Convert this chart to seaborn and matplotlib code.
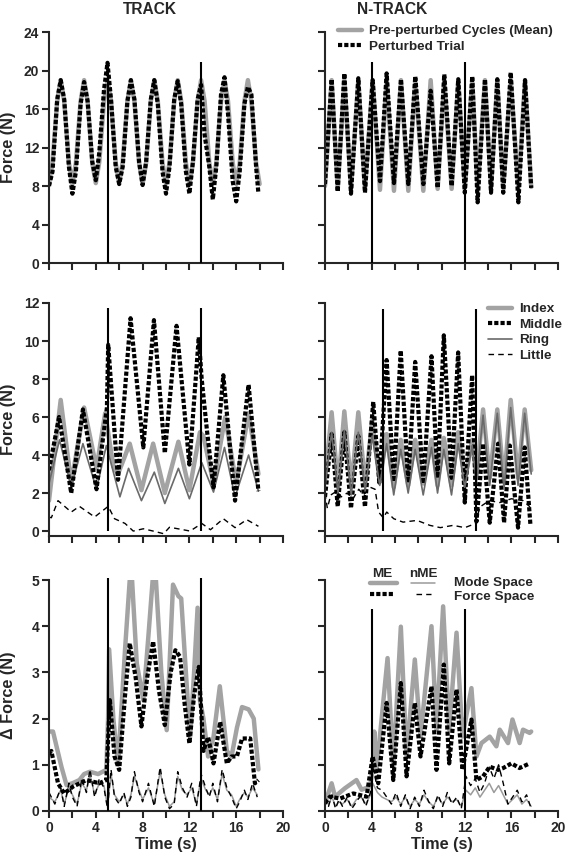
import matplotlib
matplotlib.use("Agg")
import matplotlib.pyplot as plt
import seaborn as sns
from matplotlib.lines import Line2D

# ---------------- DATA ----------------
x_ticks = [0, 2, 4, 6, 8, 10, 12, 14, 16, 18, 20]
x_tick_labels = ["0", "", "4", "", "8", "", "12", "", "16", "", "20"]
y_ticks_total = [0, 4, 8, 12, 16, 20, 24]
y_ticks_finger = [0, 2, 4, 6, 8, 10, 12]
y_ticks_delta = [0, 1, 2, 3, 4, 5]

# Top-left (TRACK) total force
t_track_mean = [0, 0.3, 0.7, 1, 1.3, 1.7, 2, 2.3, 2.7, 3, 3.3, 3.7, 4, 4.3, 4.7, 5, 5.3, 5.7,
                6, 6.3, 6.7, 7, 7.3, 7.7, 8, 8.3, 8.7, 9, 9.3, 9.7, 10, 10.3, 10.7, 11, 11.3, 11.7,
                12, 12.3, 12.7, 13, 13.3, 13.7, 14, 14.3, 14.7, 15, 15.3, 15.7, 16, 16.3, 16.7,
                17, 17.3, 17.7, 18]
track_mean = [8.2, 10.4, 16.8, 19.0, 16.8, 10.4, 8.2, 10.4, 16.8, 19.0, 16.8, 10.4,
              8.3, 10.5, 16.8, 19.0, 16.8, 10.4, 8.3, 10.5, 16.8, 19.0, 16.8, 10.4,
              8.2, 10.4, 16.8, 19.0, 16.8, 10.4, 8.2, 10.4, 16.8, 19.0, 16.8, 10.4,
              8.2, 10.4, 16.8, 19.0, 16.8, 10.4, 8.2, 10.4, 16.8, 19.0, 16.8, 10.4,
              8.2, 10.4, 16.8, 19.0, 16.8, 10.4, 8.2]
t_track_trial = [0, 0.3, 0.7, 1, 1.3, 1.7, 2, 2.3, 2.7, 3, 3.3, 3.7, 4, 4.3, 4.7, 5, 5.3, 5.7,
                 6, 6.3, 6.7, 7, 7.3, 7.7, 8, 8.3, 8.7, 9, 9.3, 9.7, 10, 10.3, 10.7, 11, 11.3, 11.7,
                 12, 12.3, 12.7, 13, 13.3, 13.7, 14, 14.3, 14.7, 15, 15.3, 15.7, 16, 16.3, 16.7,
                 17, 17.3, 17.7, 17.9]
track_trial = [8.0, 9.5, 17.0, 19.0, 17.0, 10.0, 7.2, 9.5, 16.5, 18.8, 16.8, 10.5,
               8.6, 11.5, 18.0, 20.8, 17.0, 10.0, 8.2, 10.0, 16.8, 19.0, 17.0, 10.5,
               8.1, 10.5, 17.0, 19.0, 16.5, 9.5, 7.2, 10.0, 17.0, 18.9, 16.5, 9.5,
               7.2, 10.5, 17.0, 18.5, 13.3, 10.0, 6.6, 10.0, 17.5, 19.3, 15.5, 8.5,
               6.4, 9.5, 16.5, 18.3, 17.5, 10.0, 7.2]

# Top-right (N-TRACK) total force
t_ntrack = [0, 0.57, 1.09, 1.66, 2.23, 2.86, 3.43, 4.09, 4.72, 5.29, 5.92, 6.52, 7.15, 7.75,
            8.44, 9.07, 9.67, 10.24, 10.87, 11.44, 12.0, 12.64, 13.1, 13.73, 14.25, 14.79,
            15.3, 15.94, 16.6, 17.17, 17.7]
ntrack_mean = [8.0, 19.0, 7.7, 19.0, 7.7, 19.0, 7.7, 19.0, 7.6, 19.0, 7.5, 19.0, 7.5, 19.0,
               7.5, 19.0, 7.7, 19.0, 7.7, 19.0, 7.8, 19.0, 7.8, 19.0, 7.8, 19.0, 7.8, 19.0,
               7.8, 19.0, 7.9]
ntrack_trial = [8.2, 19.1, 7.4, 19.7, 7.2, 19.2, 7.3, 19.0, 8.5, 19.7, 8.3, 19.1, 8.2, 19.4,
                8.2, 17.9, 7.8, 19.6, 8.0, 19.1, 7.3, 19.4, 6.3, 19.1, 7.3, 19.1, 7.3, 19.8,
                6.3, 19.0, 7.8]

# Middle-left (TRACK) finger forces
t_tr_middle = [0, 0.86, 1.9, 2.9, 4.06, 4.95, 5.06, 5.9, 6.97, 8.06, 8.97, 9.9, 10.9, 12.0,
               12.8, 13.05, 13.5, 14.06, 14.9, 15.9, 17.06, 17.9]
tr_middle = [3.2, 6.0, 2.0, 6.4, 2.2, 6.5, 9.8, 2.7, 11.2, 4.4, 11.1, 4.1, 10.8, 3.5,
             10.2, 8.0, 5.3, 2.3, 8.2, 1.6, 7.7, 2.1]
t_tr_index = [0, 1.0, 1.9, 3.0, 4.06, 4.8, 5.5, 5.9, 6.9, 7.9, 8.9, 9.9, 11.06, 12.0, 12.9,
              13.2, 14.06, 15.06, 16.0, 17.06, 17.9]
tr_index = [1.6, 6.9, 2.5, 6.5, 3.3, 6.2, 3.4, 3.0, 4.6, 2.15, 4.6, 2.0, 4.7, 2.15, 5.2,
            5.0, 2.5, 6.0, 2.5, 6.2, 3.0]
t_tr_ring = [0, 0.9, 1.9, 2.9, 4.06, 4.9, 6.06, 6.8, 7.9, 9.0, 9.9, 11.06, 12.0, 13.06,
             14.06, 15.0, 15.9, 17.06, 17.9]
tr_ring = [2.5, 4.8, 2.3, 4.6, 2.2, 4.5, 1.8, 3.3, 1.6, 3.1, 1.45, 3.3, 1.7, 3.6,
           2.05, 4.4, 1.8, 4.0, 2.1]
t_tr_little = [0, 0.2, 0.77, 1.9, 2.6, 3.9, 5.06, 5.6, 6.5, 7.2, 8.06, 8.9, 9.8, 10.3, 11.2,
               12.06, 13.06, 13.8, 14.9, 15.9, 16.9, 17.9]
tr_little = [0.74, 0.7, 1.6, 1.0, 1.3, 0.74, 1.3, 0.65, 0.4, 0.0, 0.12, 0.0, -0.14, 0.2, 0.1,
             0.0, 0.4, 0.07, 0.65, 0.18, 0.6, 0.25]

# Middle-right (N-TRACK) finger forces
t_nt_middle = [0, 0.57, 1.09, 1.66, 2.23, 2.86, 3.43, 4.14, 4.66, 5.29, 5.9, 6.5, 7.14, 7.74,
               8.43, 9.14, 9.66, 10.2, 10.86, 11.43, 12.0, 12.63, 13.0, 13.57, 14.14, 14.86,
               15.37, 15.86, 16.57, 17.14, 17.63]
nt_middle = [1.8, 5.1, 1.3, 5.2, 1.2, 5.0, 1.27, 6.8, 2.55, 9.0, 2.6, 9.5, 2.55, 8.9,
             2.5, 9.2, 2.8, 10.3, 2.8, 9.4, 1.5, 8.2, 0.5, 4.6, 0.44, 4.6,
             0.44, 4.5, 0.18, 4.4, 0.35]
t_nt_index = [0, 0.57, 1.12, 1.66, 2.25, 2.86, 3.45, 4.05, 4.7, 5.29, 5.9, 6.5, 7.14, 7.74,
              8.43, 9.14, 9.66, 10.2, 10.86, 11.43, 12.0, 12.63, 13.0, 13.57, 14.14, 14.79,
              15.37, 15.94, 16.57, 17.14, 17.7]
nt_index = [2.6, 6.25, 2.3, 6.3, 2.3, 6.25, 2.4, 5.8, 2.6, 5.1, 2.3, 4.8, 2.4, 4.8,
            2.5, 4.8, 2.4, 4.9, 2.4, 5.2, 2.6, 4.8, 2.8, 6.4, 2.8, 6.4,
            2.6, 6.9, 2.8, 6.4, 3.2]
nt_ring = [2.3, 5.2, 2.0, 5.3, 1.9, 5.2, 2.1, 5.0, 2.4, 4.6, 1.9, 4.3, 2.0, 4.3,
           1.9, 4.4, 2.0, 4.3, 1.9, 4.6, 2.3, 4.5, 2.6, 6.1, 2.4, 6.2,
           2.2, 6.5, 2.4, 6.2, 3.0]
t_nt_little = [0, 0.2, 0.5, 1.0, 1.4, 1.9, 2.4, 2.9, 3.3, 3.9, 4.3, 4.6, 5.0, 5.3, 5.9, 6.7,
               7.9, 9.0, 9.9, 11.0, 12.0, 12.9, 13.3, 14.1, 15.0, 16.0, 17.0, 17.6]
nt_little = [2.0, 1.2, 1.9, 2.1, 1.8, 2.0, 1.7, 2.2, 1.9, 2.3, 2.2, 1.0, 0.7, 1.0, 0.65, 0.47,
             0.56, 0.3, 0.18, 0.3, 0.18, 0.39, 1.27, 1.6, 1.5, 1.7, 1.6, 1.27]

# Bottom-left (TRACK) delta force
t_tr_me_mode = [0, 0.34, 1.06, 1.5, 2.0, 2.6, 3.0, 3.5, 4.2, 4.9, 5.05, 5.14, 5.5, 5.9, 6.5,
                6.9, 7.1, 7.5, 8.06, 8.5, 8.86, 9.14, 9.6, 10.06, 10.6, 11.06, 11.3, 11.7,
                12.06, 12.4, 12.7, 12.9, 13.2, 13.6, 14.06, 14.6, 15.2, 15.6, 16.06, 16.5,
                17.06, 17.5, 17.9]
tr_me_mode = [1.72, 1.72, 0.96, 0.56, 0.6, 0.67, 0.8, 0.85, 0.8, 0.89, 2.0, 3.5, 2.0, 1.0,
              3.5, 5.0, 5.0, 3.2, 2.4, 3.8, 5.0, 5.0, 3.0, 1.75, 4.9, 4.65, 4.6, 3.0,
              1.6, 3.0, 4.4, 2.4, 2.0, 1.18, 1.6, 2.7, 1.3, 1.18, 1.8, 2.25,
              2.2, 2.0, 0.9]
t_tr_me_force = [0, 0.2, 0.77, 1.3, 2.06, 3.2, 4.3, 4.9, 5.2, 5.6, 6.0, 6.5, 6.9, 7.4, 7.9,
                 8.4, 8.9, 9.4, 9.9, 10.4, 10.8, 11.2, 11.6, 12.0, 12.4, 12.8, 13.2, 13.6,
                 14.06, 14.63, 15.2, 15.6, 16.06, 16.5, 17.2, 17.6, 17.9]
tr_me_force = [1.25, 1.3, 0.6, 0.38, 0.53, 0.67, 0.6, 0.67, 2.4, 1.18, 0.89, 2.5, 3.63, 2.9,
               1.83, 2.9, 3.67, 2.6, 1.86, 3.0, 3.48, 3.34, 2.3, 1.46, 2.5, 3.12, 1.3, 1.6,
               1.03, 1.93, 1.03, 1.18, 1.18, 1.57, 1.57, 0.6, 0.67]
t_tr_nme = [0, 0.5, 1.0, 1.3, 1.7, 2.0, 2.4, 2.8, 3.2, 3.5, 3.9, 4.3, 4.7, 5.0, 5.3, 5.6, 6.0,
            6.4, 6.7, 7.0, 7.3, 7.7, 8.0, 8.5, 9.0, 9.5, 9.9, 10.3, 10.7, 11.0, 11.4, 11.8,
            12.2, 12.6, 13.0, 13.4, 13.7, 14.0, 14.4, 14.8, 15.2, 15.6, 16.0, 16.3, 16.7,
            17.0, 17.4, 17.8]
tr_nme_force = [0.4, 0.15, 0.5, 0.1, 0.6, 0.3, 0.1, 0.7, 0.4, 0.9, 0.3, 0.7, 0.5, 0.05, 0.9,
                0.3, 0.15, 0.4, 0.1, 0.3, 0.85, 0.4, 0.2, 0.6, 0.1, 0.95, 0.3, 0.05, 0.15,
                0.85, 0.5, 0.3, 0.6, 0.1, 0.8, 0.5, 0.3, 0.6, 0.2, 0.9, 0.5, 0.3, 0.05,
                0.2, 0.45, 0.25, 0.6, 0.3]
tr_nme_mode = [0.3, 0.2, 0.45, 0.15, 0.5, 0.35, 0.15, 0.6, 0.45, 0.8, 0.35, 0.6, 0.55, 0.1,
               0.8, 0.35, 0.2, 0.35, 0.15, 0.35, 0.75, 0.45, 0.25, 0.5, 0.15, 0.85, 0.35,
               0.1, 0.2, 0.75, 0.45, 0.35, 0.5, 0.15, 0.7, 0.45, 0.35, 0.5, 0.25, 0.8, 0.45,
               0.35, 0.1, 0.25, 0.4, 0.3, 0.5, 0.35]

# Bottom-right (N-TRACK) delta force
t_nt_me_mode = [0, 0.57, 0.86, 1.7, 2.7, 3.14, 3.86, 4.1, 4.23, 4.43, 5.37, 5.86, 6.51, 7.0,
                7.71, 8.2, 9.14, 9.57, 10.14, 10.66, 11.29, 11.8, 12.57, 13.0, 13.43, 14.14,
                14.71, 15.0, 15.71, 16.09, 16.71, 17.0, 17.57, 17.7]
nt_me_mode = [0.17, 0.6, 0.31, 0.49, 0.67, 0.46, 0.53, 0.9, 1.72, 0.89, 3.31, 0.96, 3.99,
              1.18, 3.28, 1.61, 4.0, 1.76, 4.43, 1.76, 3.86, 1.61, 2.66, 1.18, 1.47, 1.61,
              1.4, 1.76, 1.47, 1.98, 1.47, 1.76, 1.69, 1.72]
t_nt_me_force = [0, 0.43, 1.29, 2.43, 3.57, 4.09, 4.57, 5.29, 5.86, 6.51, 7.0, 7.71, 8.2,
                 9.14, 9.57, 10.2, 10.66, 11.29, 11.8, 12.57, 13.0, 13.57, 14.14, 14.86,
                 15.3, 16.0, 16.7, 17.57]
nt_me_force = [0.17, 0.31, 0.27, 0.38, 0.31, 1.18, 0.6, 2.34, 0.67, 2.77, 0.75, 2.34, 1.18,
               2.7, 0.89, 3.17, 1.03, 2.63, 0.89, 1.98, 0.67, 0.75, 0.96, 0.89,
               0.93, 1.03, 0.93, 1.03]
t_nt_nme = [0, 0.3, 0.6, 0.9, 1.2, 1.5, 1.9, 2.3, 2.7, 3.1, 3.5, 3.9, 4.1, 4.5, 4.9, 5.3,
            5.7, 6.1, 6.5, 6.9, 7.3, 7.7, 8.1, 8.5, 8.9, 9.3, 9.7, 10.1, 10.5, 10.9, 11.3,
            11.7, 12.1, 12.5, 12.9, 13.3, 13.7, 14.1, 14.5, 14.9, 15.3, 15.7, 16.1, 16.5,
            16.9, 17.3, 17.7]
nt_nme_force = [0.3, 0.1, 0.35, 0.05, 0.25, 0.1, 0.3, 0.05, 0.2, 0.35, 0.1, 0.4, 0.95, 0.5,
                0.45, 0.3, 0.15, 0.4, 0.1, 0.35, 0.05, 0.3, 0.1, 0.45, 0.2, 0.05, 0.35, 0.1,
                0.4, 0.15, 0.3, 0.05, 0.75, 0.55, 0.7, 0.4, 0.6, 0.95, 0.7, 1.0, 0.6, 0.15,
                0.3, 0.45, 0.2, 0.35, 0.05]
nt_nme_mode = [0.2, 0.15, 0.3, 0.1, 0.2, 0.15, 0.25, 0.1, 0.25, 0.3, 0.15, 0.35, 0.6, 0.4,
               0.3, 0.25, 0.2, 0.3, 0.15, 0.3, 0.1, 0.25, 0.15, 0.35, 0.2, 0.1, 0.3, 0.15,
               0.3, 0.2, 0.25, 0.1, 0.45, 0.35, 0.5, 0.3, 0.45, 0.6, 0.4, 0.55, 0.35, 0.15,
               0.25, 0.35, 0.15, 0.25, 0.1]

# ---------------- STYLE ----------------
sns.set_style("ticks")
plt.rcParams["font.family"] = ["Liberation Sans", "DejaVu Sans"]
plt.rcParams["font.weight"] = "bold"
plt.rcParams["axes.labelweight"] = "bold"

GRAY_THICK = dict(color="#a3a3a3", lw=3.2, linestyle="-")
BLACK_DOT = dict(color="black", lw=3.0, linestyle=(0, (1, 0.5)), dash_capstyle="butt")
RING = dict(color="#6a6a6a", lw=1.2, linestyle="-")
NME_MODE = dict(color="#9a9a9a", lw=1.1, linestyle="-")
DASHED = dict(color="black", lw=1.0, linestyle=(0, (4, 3)))

TICK_FS = 10
LABEL_FS = 11.7
TITLE_FS = 11.2
LEG_FS = 9.7

fig = plt.figure(figsize=(5.68, 8.57), dpi=100)
W, H = 568.0, 857.0


def add_ax(left, top, right, bottom):
    return fig.add_axes([left / W, 1 - bottom / H, (right - left) / W, (bottom - top) / H])


ax_tl = add_ax(49, 32, 283, 263)
ax_tr = add_ax(325, 32, 558, 263)
ax_ml = add_ax(49, 303, 283, 536)
ax_mr = add_ax(325, 303, 558, 536)
ax_bl = add_ax(49, 580, 283, 811)
ax_br = add_ax(325, 580, 558, 811)


def draw(ax, t, y, style, label=None):
    sns.lineplot(x=t, y=y, ax=ax, sort=False, estimator=None, errorbar=None,
                 legend=False, label=label, **style)


# Top row
draw(ax_tl, t_track_mean, track_mean, GRAY_THICK)
draw(ax_tl, t_track_trial, track_trial, BLACK_DOT)
draw(ax_tr, t_ntrack, ntrack_mean, GRAY_THICK, "Pre-perturbed Cycles (Mean)")
draw(ax_tr, t_ntrack, ntrack_trial, BLACK_DOT, "Perturbed Trial")

# Middle row
draw(ax_ml, t_tr_index, tr_index, GRAY_THICK)
draw(ax_ml, t_tr_ring, tr_ring, RING)
draw(ax_ml, t_tr_little, tr_little, DASHED)
draw(ax_ml, t_tr_middle, tr_middle, BLACK_DOT)
draw(ax_mr, t_nt_index, nt_index, GRAY_THICK, "Index")
draw(ax_mr, t_nt_middle, nt_middle, BLACK_DOT, "Middle")
draw(ax_mr, t_nt_index, nt_ring, RING, "Ring")
draw(ax_mr, t_nt_little, nt_little, DASHED, "Little")

# Bottom row
draw(ax_bl, t_tr_me_mode, tr_me_mode, GRAY_THICK)
draw(ax_bl, t_tr_nme, tr_nme_mode, NME_MODE)
draw(ax_bl, t_tr_me_force, tr_me_force, BLACK_DOT)
draw(ax_bl, t_tr_nme, tr_nme_force, DASHED)
draw(ax_br, t_nt_me_mode, nt_me_mode, GRAY_THICK)
draw(ax_br, t_nt_nme, nt_nme_mode, NME_MODE)
draw(ax_br, t_nt_me_force, nt_me_force, BLACK_DOT)
draw(ax_br, t_nt_nme, nt_nme_force, DASHED)

# Perturbation markers
for ax, xs, top in [(ax_tl, [5, 13], 20.9), (ax_tr, [4, 12], 20.9),
                    (ax_ml, [5, 13], 11.75), (ax_mr, [5, 13], 11.7),
                    (ax_bl, [5, 13], 5.05), (ax_br, [4, 12], 4.37)]:
    ax.vlines(xs, 0, top, color="black", lw=1.5, clip_on=False, zorder=5)

# Axes formatting
rows = [(ax_tl, ax_tr, (0, 24), y_ticks_total, False),
        (ax_ml, ax_mr, (-0.26, 12), y_ticks_finger, False),
        (ax_bl, ax_br, (0, 5), y_ticks_delta, True)]
for left, right, ylim, yt, xlab in rows:
    for ax in (left, right):
        ax.set_xlim(0, 20)
        ax.set_ylim(*ylim)
        ax.set_xticks(x_ticks)
        ax.set_yticks(yt)
        ax.set_xticklabels(x_tick_labels if xlab else [""] * len(x_ticks))
        ax.set_xlabel("Time (s)" if xlab else "", fontsize=LABEL_FS, fontweight="bold", labelpad=2)
        ax.set_ylabel("")
        for s in ("top", "right"):
            ax.spines[s].set_visible(False)
        for s in ("left", "bottom"):
            ax.spines[s].set_linewidth(1.5)
        ax.tick_params(direction="out", length=5, width=1.5, labelsize=TICK_FS, pad=2)
    right.set_yticklabels([""] * len(yt))
    left.set_yticklabels([str(v) for v in yt])

for ax, lab in [(ax_tl, "Force (N)"), (ax_ml, "Force (N)"), (ax_bl, "Δ Force (N)")]:
    ax.set_ylabel(lab, fontsize=LABEL_FS, fontweight="bold")
    ax.yaxis.set_label_coords(-33 / 234, 0.5)

# Titles
fig.text(150 / W, 1 - 10 / H, "TRACK", ha="center", va="center", fontsize=TITLE_FS, fontweight="bold")
fig.text(392 / W, 1 - 10 / H, "N-TRACK", ha="center", va="center", fontsize=TITLE_FS, fontweight="bold")

# Legends
h, l = ax_tr.get_legend_handles_labels()
fig.legend(h, l, loc="upper left", bbox_to_anchor=(338 / W, 1 - 25 / H), frameon=False,
           borderpad=0, borderaxespad=0, handlelength=1.8, handletextpad=0.5,
           labelspacing=0.22, prop=dict(size=LEG_FS, weight="bold"))
h, l = ax_mr.get_legend_handles_labels()
fig.legend(h, l, loc="upper left", bbox_to_anchor=(488 / W, 1 - 303 / H), frameon=False,
           borderpad=0, borderaxespad=0, handlelength=1.8, handletextpad=0.5,
           labelspacing=0.22, prop=dict(size=LEG_FS, weight="bold"))


# Custom legend for bottom-right
def fig_line(x0, x1, y, style):
    fig.add_artist(Line2D([x0 / W, x1 / W], [1 - y / H, 1 - y / H], transform=fig.transFigure, **style))


fig.text(382 / W, 1 - 574 / H, "ME", ha="center", va="center", fontsize=LEG_FS, fontweight="bold")
fig.text(423 / W, 1 - 574 / H, "nME", ha="center", va="center", fontsize=LEG_FS, fontweight="bold")
fig_line(370, 397, 583, GRAY_THICK)
fig_line(411, 435, 583, NME_MODE)
fig_line(370, 395, 594, BLACK_DOT)
fig_line(416, 431, 594, DASHED)
fig.text(454 / W, 1 - 583 / H, "Mode Space", ha="left", va="center", fontsize=LEG_FS, fontweight="bold")
fig.text(454 / W, 1 - 597 / H, "Force Space", ha="left", va="center", fontsize=LEG_FS, fontweight="bold")

fig.savefig("out.png", dpi=100)
